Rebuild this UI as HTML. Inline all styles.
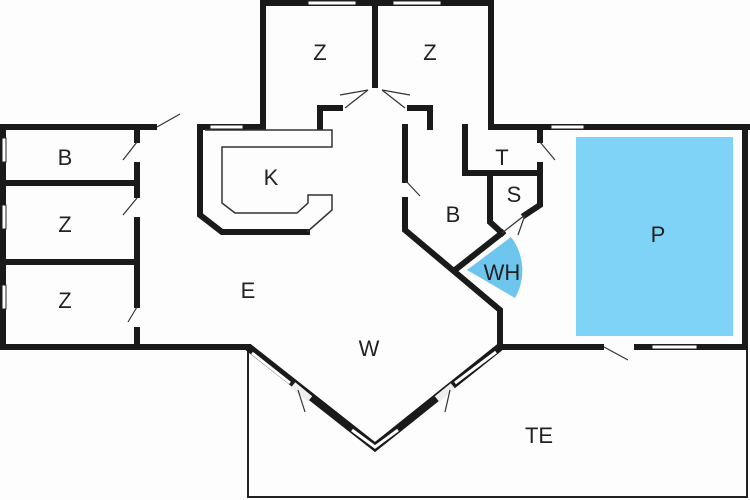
<!DOCTYPE html>
<html><head><meta charset="utf-8"><style>
html,body{margin:0;padding:0;background:#fff;}
svg{display:block}
text{font-family:"Liberation Sans",sans-serif;font-size:22px;fill:#222;text-anchor:middle}
</style></head><body>
<svg width="750" height="500" viewBox="0 0 750 500">
<rect width="750" height="500" fill="#fdfdfd"/>
<!-- pool -->
<rect x="576" y="137" width="157" height="199" fill="#7fd3f7"/>
<!-- WH sector -->
<path d="M467,270 L511,237 A55,55 0 0 1 515,298 Z" fill="#6ec6ee"/>
<!-- TE terrace (no top edge) -->
<path d="M248,347 L248,497 L747,497 L747,347" fill="none" stroke="#222" stroke-width="2"/>
<g stroke="#1a1a1a" stroke-width="6" fill="none" stroke-linecap="square">
<!-- left wing -->
<path d="M155,127 L3,127 L3,347 L248,347"/>
<path d="M200,127 L263,127"/>
<path d="M137,130 L137,140 M137,165 L137,195 M137,220 L137,305 M137,330 L137,347"/>
<path d="M3,183 L137,183 M3,262 L137,262"/>
<!-- tower -->
<path d="M263,127 L263,3 L491,3 L491,127 L750,127"/>
<path d="M375,3 L375,85"/>
<path d="M320,127 L320,108 L340,108"/>
<path d="M430,127 L430,108 L410,108"/>
<!-- right wing -->
<path d="M745,127 L745,347 L500,347"/>
<!-- bath/kitchen walls -->
<path d="M405,127 L405,180 M405,200 L405,230 L500,310 L500,347"/>
<path d="M455,270 L502,233"/>
<path d="M465,127 L465,173 L540,173"/>
<path d="M540,127 L540,140 M540,165 L540,205 L525,215"/>
<path d="M490,173 L490,222 L502,233"/>
<!-- kitchen -->
<path d="M200,127 L200,215 L222,232 L307,232"/>
</g>
<!-- kitchen counter outline -->
<path d="M205,130 L332,130 L332,147 L222,147 L222,203 L235,213 L297,213 L308,203 L308,195 L332,195 L332,210 L307,232" fill="none" stroke="#333" stroke-width="1.5"/>
<!-- W bay -->
<g stroke="#1a1a1a" fill="none">
<path d="M248,347 L375,447 L500,347" stroke-width="8"/>
<path d="M252,353 L290,383 M352,430 L375,447 L398,430 M455,383 L496,352" stroke="#fff" stroke-width="3"/>
<path d="M293,385 L310,399 M437,399 L453,386" stroke="#eee" stroke-width="7"/>
</g>
<!-- windows -->
<g fill="#fff" stroke="#222" stroke-width="1">
<rect x="210" y="125" width="33" height="4"/>
<rect x="308" y="1" width="48" height="4"/>
<rect x="393" y="1" width="48" height="4"/>
<rect x="551" y="125" width="33" height="4"/>
<rect x="2" y="138" width="4" height="24"/>
<rect x="2" y="205" width="4" height="24"/>
<rect x="2" y="285" width="4" height="24"/>
<rect x="652" y="345" width="45" height="4"/>
</g>
<!-- door gaps -->
<g fill="#fdfdfd">
<rect x="157" y="123" width="30" height="9"/>
<rect x="604" y="343" width="30" height="9"/>
</g>
<!-- door swings -->
<g stroke="#333" stroke-width="1.2">
<line x1="157" y1="127" x2="180" y2="114"/>
<line x1="137" y1="142" x2="123" y2="160"/>
<line x1="137" y1="198" x2="123" y2="215"/>
<line x1="137" y1="307" x2="128" y2="322" />
<line x1="345" y1="108" x2="368" y2="90"/><line x1="368" y1="90" x2="340" y2="95"/>
<line x1="405" y1="108" x2="382" y2="90"/><line x1="382" y1="90" x2="410" y2="95"/>
<line x1="405" y1="180" x2="420" y2="196"/>
<line x1="540" y1="142" x2="555" y2="160"/>
<line x1="502" y1="233" x2="525" y2="215"/><line x1="525" y1="215" x2="518" y2="235"/>
<line x1="604" y1="347" x2="628" y2="360"/>
<line x1="298" y1="390" x2="305" y2="412"/>
<line x1="450" y1="390" x2="445" y2="412"/>
</g>
<text x="65" y="165">B</text>
<text x="65" y="232">Z</text>
<text x="65" y="308">Z</text>
<text x="271" y="185">K</text>
<text x="320" y="60">Z</text>
<text x="430" y="60">Z</text>
<text x="502" y="165">T</text>
<text x="514" y="202">S</text>
<text x="453" y="222">B</text>
<text x="502" y="280">WH</text>
<text x="658" y="242">P</text>
<text x="248" y="298">E</text>
<text x="369" y="356">W</text>
<text x="539" y="443">TE</text>
</svg>
</body></html>
